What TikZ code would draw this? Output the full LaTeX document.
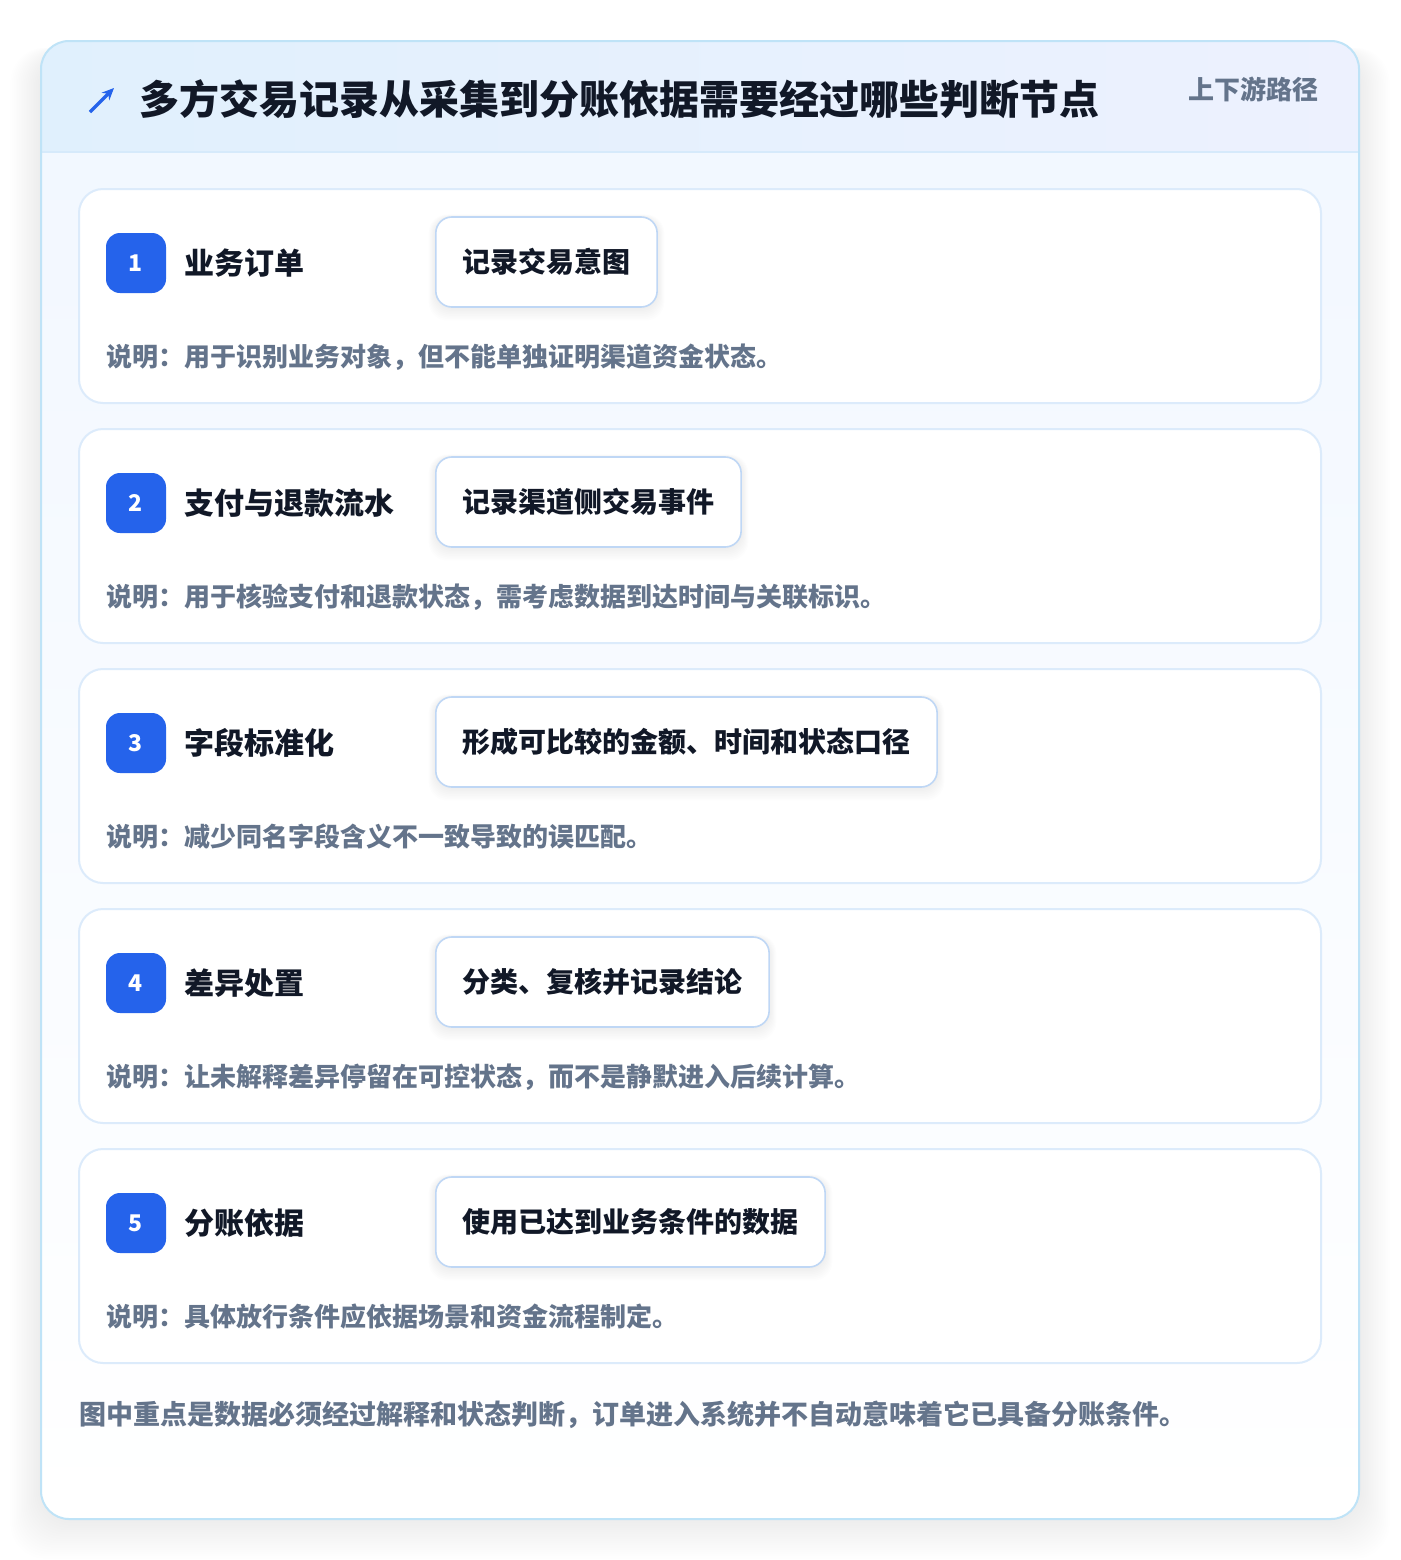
\documentclass[tikz,border=0pt]{standalone}
\usepackage{fontspec}
\setmainfont{Noto Sans CJK SC}
\usetikzlibrary{arrows.meta}
\definecolor{pagebg}{HTML}{FFFFFF}
\definecolor{cardline}{HTML}{BFE3F7}
\definecolor{headL}{HTML}{E0F0FD}
\definecolor{headR}{HTML}{EDF1FE}
\definecolor{headline}{HTML}{D6EAFB}
\definecolor{bodytop}{HTML}{F1F7FF}
\definecolor{bodybot}{HTML}{FFFFFF}
\definecolor{stepline}{HTML}{DCEBFB}
\definecolor{pillline}{HTML}{BFD7F5}
\definecolor{badgeblue}{HTML}{2563EB}
\definecolor{darktext}{HTML}{111827}
\definecolor{graytext}{HTML}{64748B}
\definecolor{shadowc}{HTML}{1E293B}
\tikzset{
  stepcard/.style={draw=stepline, line width=1.5pt, fill=white, rounded corners=18pt},
  badgebox/.style={fill=badgeblue, rounded corners=10.5pt, minimum width=45pt, minimum height=45pt, inner sep=0pt, text=white, font=\bfseries\fontsize{17.25pt}{19pt}\selectfont},
  steplabel/.style={anchor=west, inner sep=0pt, text=darktext, font=\bfseries\fontsize{22.5pt}{26pt}\selectfont},
  pillbox/.style={draw=pillline, line width=1.2pt, fill=white, rounded corners=12pt, minimum height=67.5pt, inner xsep=20pt, inner ysep=0pt, anchor=west, text=darktext, font=\bfseries\fontsize{21pt}{24pt}\selectfont},
  pillghost/.style={pillbox, draw=none, fill=none, text opacity=0},
  desctext/.style={anchor=west, inner sep=0pt, text=graytext, font=\bfseries\fontsize{19.5pt}{22pt}\selectfont},
}
\begin{document}
\begin{tikzpicture}[x=0.75pt,y=-0.75pt]
\useasboundingbox (0,0) rectangle (1400,1560);
\fill[pagebg] (0,0) rectangle (1400,1560);
% shadow
\foreach \i in {1,...,18}{
  \fill[shadowc, opacity=0.005, rounded corners=26pt] (41-1.7*\i,41-0.3*\i+12) rectangle (1359+1.7*\i,1519+2.2*\i);
}
% outer card
\path[top color=bodytop, bottom color=bodybot, rounded corners=21pt] (41,41) rectangle (1359,1519);
% header
\fill[left color=headL, right color=headR] (41,152) {[rounded corners=21pt] -- (41,41) -- (1359,41)} -- (1359,152) -- cycle;
\draw[headline, line width=1.2pt] (41,152) -- (1359,152);
\draw[cardline, line width=1.5pt, rounded corners=21pt] (41,41) rectangle (1359,1519);
% icon
\coordinate (iconA) at (90,112);
\coordinate (iconB) at (114,88);
\draw[badgeblue, line width=2.4pt, -{Stealth[length=9pt,width=8pt]}] (iconA) -- (iconB);
\node[anchor=west, inner sep=0pt, text=darktext, font=\bfseries\fontsize{30pt}{36pt}\selectfont] (title) at (139,99) {多方交易记录从采集到分账依据需要经过哪些判断节点};
\node[anchor=east, inner sep=0pt, text=graytext, font=\bfseries\fontsize{19.5pt}{22pt}\selectfont] (tag) at (1319,89) {上下游路径};
% steps
\foreach \k/\num/\lab/\pill/\desc in {
 0/1/业务订单/记录交易意图/说明：用于识别业务对象，但不能单独证明渠道资金状态。,
 1/2/支付与退款流水/记录渠道侧交易事件/说明：用于核验支付和退款状态，需考虑数据到达时间与关联标识。,
 2/3/字段标准化/形成可比较的金额、时间和状态口径/说明：减少同名字段含义不一致导致的误匹配。,
 3/4/差异处置/分类、复核并记录结论/说明：让未解释差异停留在可控状态，而不是静默进入后续计算。,
 4/5/分账依据/使用已达到业务条件的数据/说明：具体放行条件应依据场景和资金流程制定。}{
  \pgfmathsetmacro{\yo}{240*\k}
  \draw[stepcard] (79,189+\yo) rectangle (1321,403+\yo);
  \node[badgebox] (badge\num) at (136,263+\yo) {\num};
  \node[steplabel] (label\num) at (184,263+\yo) {\lab};
  \node[pillghost] (pillg\num) at (435,262+\yo) {\pill};
  \foreach \s in {1,...,8}{
    \fill[shadowc, opacity=0.008, rounded corners=14pt]
      ([xshift=-0.6*\s pt, yshift=-1pt+0.3*\s pt]pillg\num.north west) rectangle ([xshift=0.6*\s pt, yshift=-1.2*\s pt]pillg\num.south east);
  }
  \node[pillbox] (pill\num) at (435,262+\yo) {\pill};
  \node[desctext] (desc\num) at (106,357+\yo) {\desc};
}
\node[anchor=west, inner sep=0pt, text=graytext, font=\bfseries\fontsize{20.25pt}{23pt}\selectfont] (footer) at (79,1415) {图中重点是数据必须经过解释和状态判断，订单进入系统并不自动意味着它已具备分账条件。};
\end{tikzpicture}
\end{document}
